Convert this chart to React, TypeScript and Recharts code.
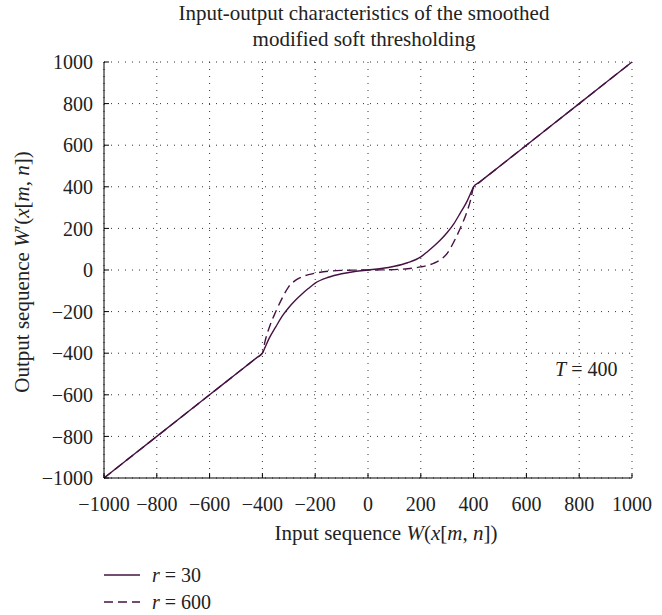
import { LineChart, Line, XAxis, YAxis, CartesianGrid } from 'recharts';

const inputX = [-1000, -800, -600, -500, -450, -420, -400, -390, -375, -350, -325, -300, -275, -250, -225, -200, -150, -100, -50, 0, 50, 100, 150, 200, 225, 250, 275, 300, 325, 350, 375, 390, 400, 420, 450, 500, 600, 800, 1000];
const outR30 = [-1000, -800, -600, -500, -450, -420, -400, -372, -330, -275, -222, -180, -145, -115, -88, -63, -35, -18, -7, 0, 7, 18, 35, 63, 88, 115, 145, 180, 222, 275, 330, 372, 400, 420, 450, 500, 600, 800, 1000];
const outR600 = [-1000, -800, -600, -500, -450, -420, -400, -343, -280, -202, -135, -80, -50, -33, -22, -15, -6, -2, -0.5, 0, 0.5, 2, 6, 15, 22, 33, 50, 80, 135, 202, 280, 343, 400, 420, 450, 500, 600, 800, 1000];
const ticks = [-1000, -800, -600, -400, -200, 0, 200, 400, 600, 800, 1000];

const data = inputX.map((x, i) => ({ x, r30: outR30[i], r600: outR600[i] }));

const lineColor = '#461243';
const font = '"Liberation Serif", "DejaVu Serif", serif';
const fmt = (v: number) => (v < 0 ? '\u2212' + Math.abs(v) : String(v));
const blank = () => '';

export default function App() {
  const tickStyle = { fill: '#222', fontSize: 20, fontFamily: font };
  return (
    <div style={{ position: 'absolute', left: 0, top: 0, width: 662, height: 615, fontFamily: font, color: '#222' }}>
      <div style={{ position: 'absolute', left: 0, width: 662, top: 0, textAlign: 'center', fontSize: 21, lineHeight: '26px', paddingLeft: 66, boxSizing: 'border-box' }}>
        Input-output characteristics of the smoothed
        <br />
        modified soft thresholding
      </div>
      <LineChart width={662} height={615} data={data} margin={{ top: 62, right: 30, bottom: 107, left: 44 }}>
        <CartesianGrid xAxisId="b" yAxisId="l" stroke="#333" strokeDasharray="1 6" />
        <XAxis
          xAxisId="b"
          dataKey="x"
          type="number"
          domain={[-1000, 1000]}
          ticks={ticks}
          tickFormatter={fmt}
          tick={tickStyle}
          tickSize={-5}
          tickMargin={24}
          height={30}
          stroke="#000"
          interval={0}
        />
        <XAxis
          xAxisId="t"
          dataKey="x"
          type="number"
          orientation="top"
          domain={[-1000, 1000]}
          ticks={ticks}
          tickFormatter={blank}
          tickSize={-5}
          height={0}
          stroke="#000"
        />
        <YAxis
          yAxisId="l"
          type="number"
          domain={[-1000, 1000]}
          ticks={ticks}
          tickFormatter={fmt}
          tick={tickStyle}
          tickSize={-5}
          tickMargin={16}
          width={60}
          stroke="#000"
          interval={0}
        />
        <YAxis
          yAxisId="r"
          type="number"
          orientation="right"
          domain={[-1000, 1000]}
          ticks={ticks}
          tickFormatter={blank}
          tickSize={-5}
          width={0}
          stroke="#000"
        />
        <Line xAxisId="b" yAxisId="l" type="monotone" dataKey="r30" stroke={lineColor} strokeWidth={1.4} dot={false} isAnimationActive={false} />
        <Line xAxisId="b" yAxisId="l" type="monotone" dataKey="r600" stroke={lineColor} strokeWidth={1.4} strokeDasharray="9 5" dot={false} isAnimationActive={false} />
      </LineChart>
      <div style={{ position: 'absolute', left: 555, top: 358, fontSize: 20 }}>
        <i>T</i> = 400
      </div>
      <div style={{ position: 'absolute', left: 0, width: 662, top: 521, textAlign: 'center', fontSize: 21, paddingLeft: 110, boxSizing: 'border-box' }}>
        Input sequence <i>W</i>(<i>x</i>[<i>m</i>, <i>n</i>])
      </div>
      <div style={{ position: 'absolute', left: 22, top: 272, fontSize: 21, whiteSpace: 'nowrap', transform: 'translate(-50%, -50%) rotate(-90deg)' }}>
        Output sequence <i>W</i>′(<i>x</i>[<i>m</i>, <i>n</i>])
      </div>
      <svg style={{ position: 'absolute', left: 0, top: 560 }} width={260} height={55}>
        <line x1={104} x2={140} y1={15} y2={15} stroke={lineColor} strokeWidth={1.4} />
        <line x1={104} x2={140} y1={42} y2={42} stroke={lineColor} strokeWidth={1.4} strokeDasharray="9 5" />
        <text x={152} y={22} fontSize={20} fontFamily={font} fill="#222"><tspan fontStyle="italic">r</tspan> = 30</text>
        <text x={152} y={49} fontSize={20} fontFamily={font} fill="#222"><tspan fontStyle="italic">r</tspan> = 600</text>
      </svg>
    </div>
  );
}
